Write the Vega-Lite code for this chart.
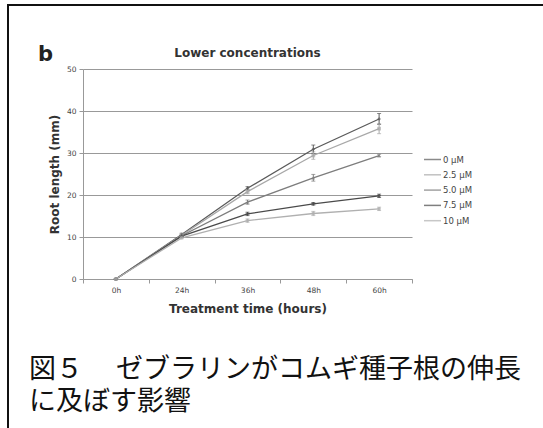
{
  "$schema": "https://vega.github.io/schema/vega-lite/v6.json",
  "width": 329,
  "height": 210,
  "autosize": "none",
  "padding": {"left": 83, "top": 69, "right": 131, "bottom": 149},
  "background": "white",
  "config": {
    "view": {"stroke": null},
    "font": "DejaVu Sans"
  },
  "layer": [
    {
      "data": {
        "values": [
          {"conc": "0 µM", "time": "0h", "value": 0, "err": 0},
          {"conc": "0 µM", "time": "24h", "value": 10.6, "err": 0.3},
          {"conc": "0 µM", "time": "36h", "value": 21.6, "err": 0.4},
          {"conc": "0 µM", "time": "48h", "value": 30.9, "err": 1.0},
          {"conc": "0 µM", "time": "60h", "value": 38.1, "err": 1.3},
          {"conc": "2.5 µM", "time": "0h", "value": 0, "err": 0},
          {"conc": "2.5 µM", "time": "24h", "value": 10.4, "err": 0.3},
          {"conc": "2.5 µM", "time": "36h", "value": 20.8, "err": 0.5},
          {"conc": "2.5 µM", "time": "48h", "value": 29.4, "err": 0.9},
          {"conc": "2.5 µM", "time": "60h", "value": 35.8, "err": 1.2},
          {"conc": "5.0 µM", "time": "0h", "value": 0, "err": 0},
          {"conc": "5.0 µM", "time": "24h", "value": 10.3, "err": 0.3},
          {"conc": "5.0 µM", "time": "36h", "value": 18.3, "err": 0.5},
          {"conc": "5.0 µM", "time": "48h", "value": 24.1, "err": 0.8},
          {"conc": "5.0 µM", "time": "60h", "value": 29.4, "err": 0.3},
          {"conc": "7.5 µM", "time": "0h", "value": 0, "err": 0},
          {"conc": "7.5 µM", "time": "24h", "value": 10.2, "err": 0.2},
          {"conc": "7.5 µM", "time": "36h", "value": 15.5, "err": 0.4},
          {"conc": "7.5 µM", "time": "48h", "value": 17.9, "err": 0.3},
          {"conc": "7.5 µM", "time": "60h", "value": 19.8, "err": 0.4},
          {"conc": "10 µM", "time": "0h", "value": 0, "err": 0},
          {"conc": "10 µM", "time": "24h", "value": 9.8, "err": 0.2},
          {"conc": "10 µM", "time": "36h", "value": 13.9, "err": 0.4},
          {"conc": "10 µM", "time": "48h", "value": 15.6, "err": 0.5},
          {"conc": "10 µM", "time": "60h", "value": 16.7, "err": 0.4}
        ]
      },
      "encoding": {
        "x": {
          "field": "time",
          "type": "nominal",
          "sort": ["0h", "24h", "36h", "48h", "60h"],
          "scale": {"type": "band", "paddingInner": 0, "paddingOuter": 0},
          "axis": {
            "title": "Treatment time (hours)",
            "labelAngle": 0,
            "tickBand": "extent",
            "domainColor": "#999999",
            "tickColor": "#999999",
            "tickSize": 4,
            "labelPadding": 3,
            "labelFontSize": 7.5,
            "labelColor": "#444444",
            "titleFontSize": 12,
            "titleFontWeight": "bold",
            "titleColor": "#333333",
            "titlePadding": 10
          }
        },
        "y": {
          "field": "value",
          "type": "quantitative",
          "scale": {"domain": [0, 50], "nice": false},
          "axis": {
            "title": "Root length (mm)",
            "values": [0, 10, 20, 30, 40, 50],
            "domain": true,
            "domainColor": "#999999",
            "tickColor": "#999999",
            "gridColor": "#999999",
            "gridWidth": 1,
            "tickSize": 4,
            "labelPadding": 3,
            "labelFontSize": 7.5,
            "labelColor": "#444444",
            "titleFontSize": 12,
            "titleFontWeight": "bold",
            "titleColor": "#333333",
            "titlePadding": 5
          }
        },
        "color": {
          "field": "conc",
          "type": "nominal",
          "sort": ["0 µM", "2.5 µM", "5.0 µM", "7.5 µM", "10 µM"],
          "scale": {"range": ["#5a5a5a", "#a8a8a8", "#7d7d7d", "#4a4a4a", "#b0b0b0"]},
          "legend": {
            "title": null,
            "orient": "none",
            "legendX": 340,
            "legendY": 84,
            "symbolType": "stroke",
            "symbolSize": 289,
            "symbolStrokeWidth": 1.5,
            "clipHeight": 13,
            "rowPadding": 2.3,
            "labelFontSize": 8.5,
            "labelColor": "#444444",
            "labelOffset": 1
          }
        }
      },
      "layer": [
        {"mark": {"type": "line", "strokeWidth": 1.3}},
        {
          "mark": {"type": "errorbar", "ticks": {"size": 4}, "thickness": 1},
          "encoding": {"yError": {"field": "err"}}
        },
        {
          "mark": {"type": "point", "filled": true, "size": 14},
          "encoding": {
            "shape": {
              "field": "conc",
              "type": "nominal",
              "sort": ["0 µM", "2.5 µM", "5.0 µM", "7.5 µM", "10 µM"],
              "scale": {"range": ["diamond", "square", "triangle-up", "cross", "circle"]},
              "legend": null
            }
          }
        }
      ]
    },
    {
      "data": {"values": [{}]},
      "mark": {"type": "rule", "color": "#111111", "strokeWidth": 2},
      "encoding": {
        "x": {"value": -75},
        "x2": {"value": 470},
        "y": {"value": -64}
      }
    },
    {
      "data": {"values": [{}]},
      "mark": {"type": "rule", "color": "#111111", "strokeWidth": 2},
      "encoding": {
        "x": {"value": -75},
        "y": {"value": -65},
        "y2": {"value": 370}
      }
    },
    {
      "data": {"values": [{}]},
      "mark": {"type": "text", "text": "b", "font": "DejaVu Sans", "fontWeight": "bold", "fontSize": 21, "align": "left", "baseline": "alphabetic", "color": "#222222"},
      "encoding": {
        "x": {"value": -45},
        "y": {"value": -8}
      }
    },
    {
      "data": {"values": [{}]},
      "mark": {"type": "text", "text": "Lower concentrations", "font": "DejaVu Sans", "fontWeight": "bold", "fontSize": 12, "align": "center", "baseline": "alphabetic", "color": "#333333"},
      "encoding": {
        "x": {"value": 164.5},
        "y": {"value": -12}
      }
    },
    {
      "data": {"values": [{}]},
      "mark": {"type": "text", "text": ["図５　 ゼブラリンがコムギ種子根の伸長", "に及ぼす影響"], "font": "Noto Sans CJK JP", "fontSize": 27, "lineHeight": 32, "align": "left", "baseline": "middle", "color": "#111111"},
      "encoding": {
        "x": {"value": -54},
        "y": {"value": 301}
      }
    }
  ]
}
